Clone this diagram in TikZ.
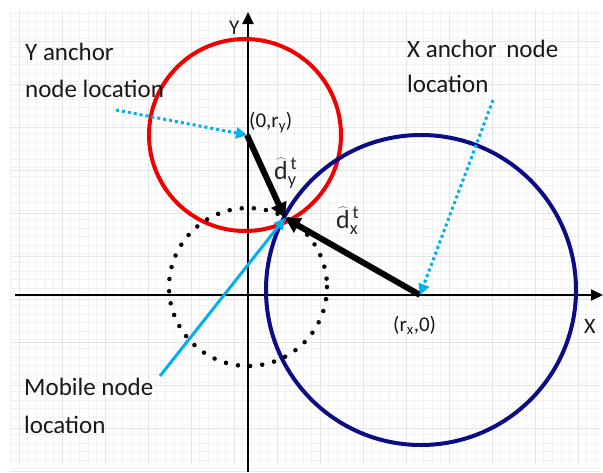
\documentclass[tikz,border=0pt]{standalone}
\usepackage{fontspec}
\setmainfont{Carlito}
\usetikzlibrary{arrows.meta}
\definecolor{lblue}{RGB}{0,176,240}
\definecolor{navy}{RGB}{12,12,135}
\definecolor{myred}{RGB}{240,0,0}
\definecolor{gridmin}{RGB}{242,242,242}
\definecolor{gridmaj}{RGB}{230,230,230}
\begin{document}
\begin{tikzpicture}[x=1pt,y=-1pt,
  lbl/.style={font=\fontsize{25}{30}\selectfont, anchor=base west, inner sep=0pt, text=black!90},
  coord/.style={font=\fontsize{21}{25}\selectfont, anchor=base west, inner sep=0pt, text=black!90},
  mathlbl/.style={anchor=base west, inner sep=0pt, font=\fontsize{26}{30}\selectfont, text=black!85},
  vec/.style={line width=6pt, -{Triangle[length=15pt,width=16pt]}},
  pointer/.style={lblue, line width=3pt, dash pattern=on 3pt off 3pt, -{Triangle[length=11pt,width=11pt]}},
  axis/.style={line width=2pt, -{Triangle[length=12pt,width=11pt]}}]
\useasboundingbox (0,0) rectangle (603,472);
\fill[white] (0,0) rectangle (603,472);
% faint grid
\foreach \k in {0,...,68} {\draw[gridmin, line width=0.6pt] ({10.4+8.6*\k},10) -- ({10.4+8.6*\k},465);}
\foreach \k in {0,...,53} {\draw[gridmin, line width=0.6pt] (10,{12.8+8.6*\k}) -- (600,{12.8+8.6*\k});}
\foreach \k in {0,...,13} {\draw[gridmaj, line width=0.8pt] ({19+43*\k},10) -- ({19+43*\k},465);}
\foreach \k in {0,...,10} {\draw[gridmaj, line width=0.8pt] (10,{41+43*\k}) -- (600,{41+43*\k});}
% key points
\coordinate (O) at (248,295);
\coordinate (Ya) at (247,135);
\coordinate (Xa) at (420,295);
\coordinate (M) at (285,218);
\coordinate (xs) at (15,295);
\coordinate (xe) at (603,295);
\coordinate (ys) at (248,472);
\coordinate (ye) at (248,12);
% axes
\draw[axis] (xs) -- (xe);
\draw[axis] (ys) -- (ye);
% circles
\draw[myred, line width=4pt] (245,135) circle[radius=96];
\draw[navy, line width=4pt] (421,290) circle[radius=155];
\draw[black, line width=4.5pt, line cap=round, dash pattern=on 0pt off 12.2pt] (248,287) circle[radius=79];
% vectors
\draw[vec] (Ya) -- (M);
\draw[vec] (Xa) -- (M);
% labels
\node[lbl] (ytxt1) at (25,60) {Y anchor};
\node[lbl] (ytxt2) at (25,97) {node location};
\node[lbl] (xtxt1) at (407,57) {X anchor\, node};
\node[lbl] (xtxt2) at (407,92) {location};
\node[lbl] (mtxt1) at (24,395) {Mobile node};
\node[lbl] (mtxt2) at (24,433) {location};
\coordinate (yp) at (116,110);
\coordinate (xp) at (493,100);
\coordinate (mp) at (160,376);
\draw[pointer] (yp) -- (Ya);
\draw[pointer] (xp) -- (Xa);
\draw[lblue, line width=3pt, -{Triangle[length=11pt,width=11pt]}] (mp) -- (M);
\node[coord] (ylab) at (249,127) {(0,r\textsubscript{y})};
\node[coord] (xlab) at (393,331) {(r\textsubscript{x},0)};
\node[coord, font=\fontsize{22}{26}\selectfont] (Xl) at (584,333) {X};
\node[coord, font=\fontsize{21}{25}\selectfont] (Yl) at (229,34) {Y};
\node[mathlbl] (dy) at (274,179) {$\widehat{\mathrm{d}}^{\,\mathrm{t}}_{\mathrm{y}}$};
\node[mathlbl] (dx) at (336,228) {$\widehat{\mathrm{d}}^{\,\mathrm{t}}_{\mathrm{x}}$};
\end{tikzpicture}
\end{document}
